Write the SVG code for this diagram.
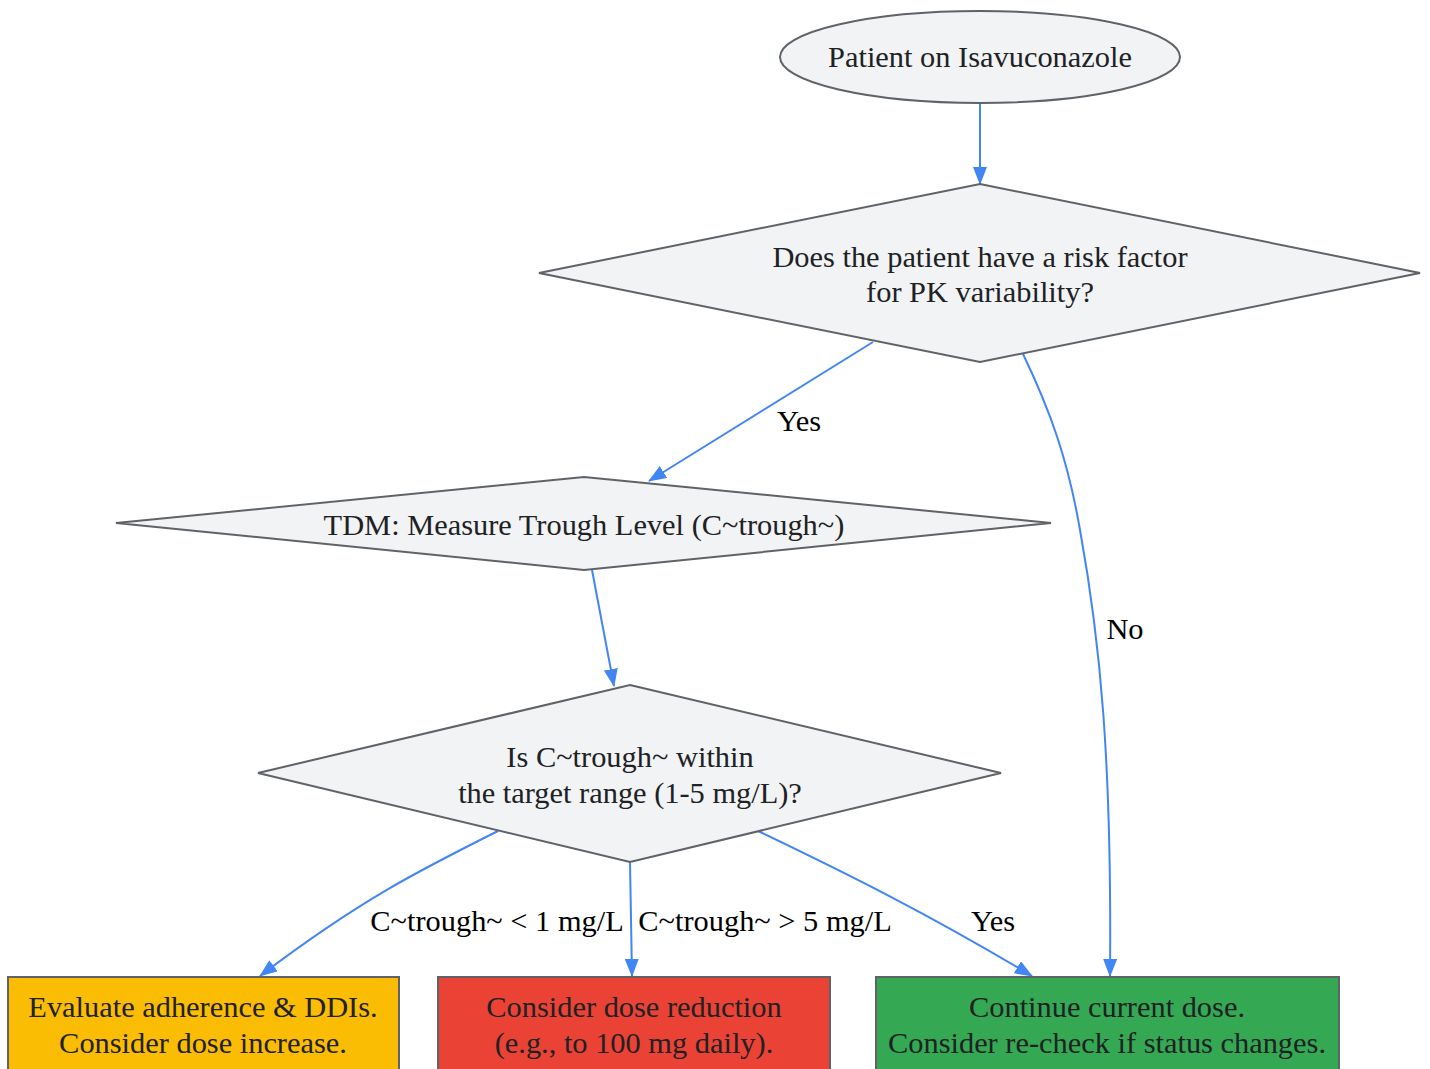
<svg xmlns="http://www.w3.org/2000/svg" width="1430" height="1069" viewBox="0 0 1430 1069">
<defs>
<style>
.node{fill:#f1f3f4;stroke:#5f6368;stroke-width:2}
.t{font-family:"Liberation Serif","Times New Roman",serif;font-size:30.4px;fill:#202124;text-anchor:middle}
.lbl{font-family:"Liberation Serif","Times New Roman",serif;font-size:30.4px;fill:#000;text-anchor:middle}
.e{fill:none;stroke:#4285f4;stroke-width:2;marker-end:url(#ah)}
</style>
<marker id="ah" viewBox="0 0 18 14" refX="17" refY="7" markerWidth="18" markerHeight="14" markerUnits="userSpaceOnUse" orient="auto">
<path d="M0,0 L18,7 L0,14 z" fill="#4285f4"/>
</marker>
</defs>
<rect width="1430" height="1069" fill="#fff"/>
<g id="connectors">
<path class="e" d="M980,103 L980,184"/>
<path class="e" d="M873,342 L649,481"/>
<path class="e" d="M1023,354 C1050,410 1068,460 1080,530 C1100,640 1112,760 1110,976"/>
<path class="e" d="M592,570 L614,686"/>
<path class="e" d="M498,831 C420,870 360,900 260,976"/>
<path class="e" d="M630,862 L632,976"/>
<path class="e" d="M758,831 C850,875 930,915 1032,976"/>
</g>
<g id="edge-labels">
<text class="lbl" x="799" y="431">Yes</text>
<text class="lbl" x="1125" y="639">No</text>
<text class="lbl" x="497" y="931">C~trough~ &lt; 1 mg/L</text>
<text class="lbl" x="765" y="931">C~trough~ &gt; 5 mg/L</text>
<text class="lbl" x="993" y="931">Yes</text>
</g>
<g id="start">
<ellipse class="node" cx="980" cy="57" rx="200" ry="46"/>
<text class="t" x="980" y="67">Patient on Isavuconazole</text>
</g>
<g id="risk">
<polygon class="node" points="980,184 1420,273 980,362 539,273"/>
<text class="t" x="980" y="267">Does the patient have a risk factor</text>
<text class="t" x="980" y="302">for PK variability?</text>
</g>
<g id="tdm">
<polygon class="node" points="584,477 1051,523 584,570 116,523"/>
<text class="t" x="584" y="535">TDM: Measure Trough Level (C~trough~)</text>
</g>
<g id="range">
<polygon class="node" points="630,685 1001,773 630,862 258,773"/>
<text class="t" x="630" y="767">Is C~trough~ within</text>
<text class="t" x="630" y="803">the target range (1-5 mg/L)?</text>
</g>
<g id="low">
<rect x="8" y="977" width="391" height="100" fill="#fbbc04" stroke="#5f6368" stroke-width="2"/>
<text class="t" x="203" y="1017">Evaluate adherence &amp; DDIs.</text>
<text class="t" x="203" y="1053">Consider dose increase.</text>
</g>
<g id="high">
<rect x="438" y="977" width="392" height="100" fill="#ea4335" stroke="#5f6368" stroke-width="2"/>
<text class="t" x="634" y="1017">Consider dose reduction</text>
<text class="t" x="634" y="1053">(e.g., to 100 mg daily).</text>
</g>
<g id="ok">
<rect x="876" y="977" width="463" height="100" fill="#34a853" stroke="#5f6368" stroke-width="2"/>
<text class="t" x="1107" y="1017">Continue current dose.</text>
<text class="t" x="1107" y="1053">Consider re-check if status changes.</text>
</g>
</svg>
